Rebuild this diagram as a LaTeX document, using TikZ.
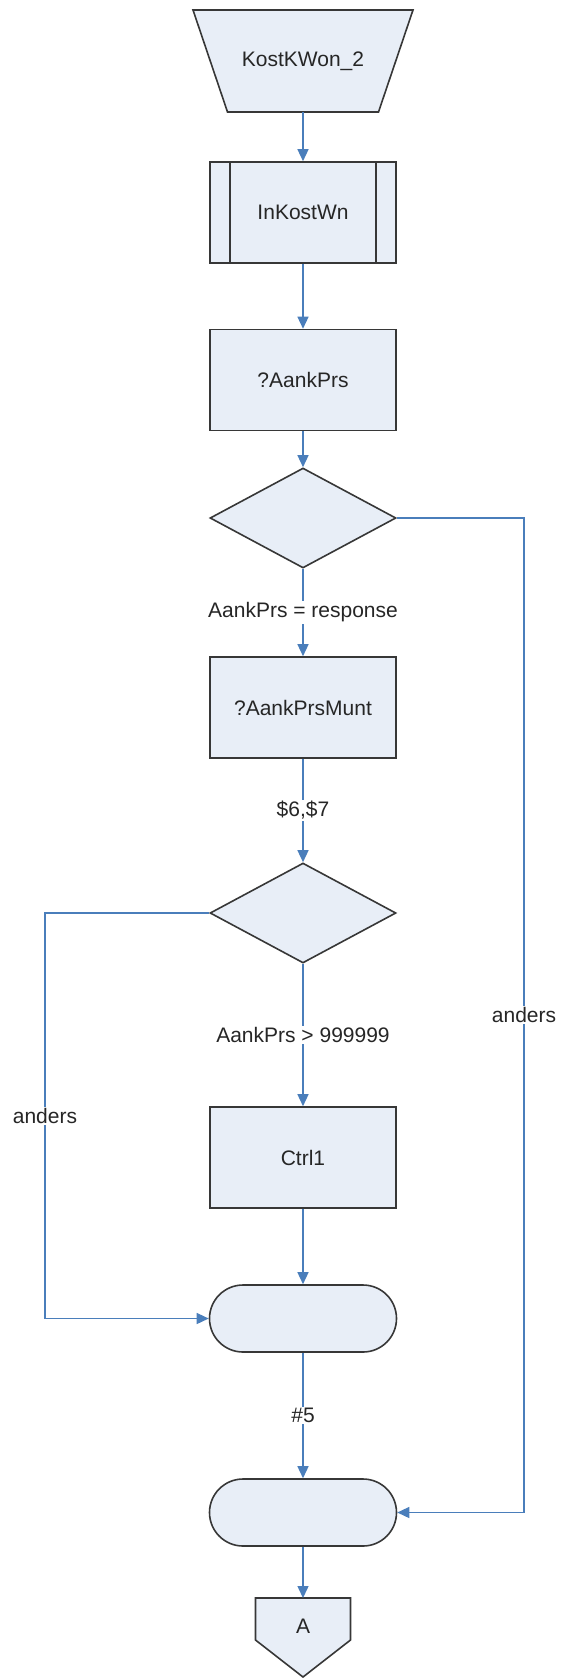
\documentclass[tikz,border=0pt]{standalone}
\usepackage{fontspec}
\setmainfont{Liberation Sans}
\usepackage{tikz}
\usetikzlibrary
  {
    arrows.meta,              % triangle arrow heads
    shapes.geometric,         % diamond
    shapes.misc,              % rounded rectangle
    calc,
  }

\definecolor{flowblue}{RGB}{74,126,187}
\definecolor{boxfill}{RGB}{232,238,247}
\definecolor{boxedge}{RGB}{55,55,55}

\tikzset{
  every node/.style={font=\fontsize{21}{25}\selectfont, text=black!85},
  shapebox/.style={draw=boxedge, fill=boxfill, line width=1.6pt, inner sep=0pt},
  procbox/.style={shapebox, rectangle, minimum width=186pt, minimum height=101pt},
  askbox/.style={shapebox, diamond, minimum width=186pt, minimum height=100pt},
  joinbox/.style={shapebox, rounded rectangle, minimum width=187pt, minimum height=67pt},
  flow/.style={draw=flowblue, line width=1.4pt, -{Triangle[length=12pt,width=11pt]}},
  lbl/.style={fill=white, inner sep=1.5pt},
}

\begin{document}
\begin{tikzpicture}[x=1pt, y=-1pt]
    \useasboundingbox (0,0) rectangle (560,1678);

    % manual input, drawn as a trapezium
    \draw [shapebox] (193,10) -- (413,10) -- (378.5,112) -- (227.5,112) -- cycle;
    \node (start) at (303,61) {KostKWon\_2};
    \coordinate (startbot) at (303,112);

    \node [procbox] (sub)   at (303,212.5)  {InKostWn};
    \draw [boxedge, line width=1.6pt]
          ($ (sub.north west) + (21,0) $) -- ($ (sub.south west) + (21,0) $)
          ($ (sub.north east) - (21,0) $) -- ($ (sub.south east) - (21,0) $);
    \node [procbox] (ask1)  at (303,380)    {?AankPrs};
    \node [askbox]  (d1)    at (303,518)    {};
    \node [procbox] (ask2)  at (303,707.5)  {?AankPrsMunt};
    \node [askbox]  (d2)    at (303,913)    {};
    \node [procbox] (ctrl)  at (303,1157.5) {Ctrl1};
    \node [joinbox] (cap1)  at (303,1318.5) {};
    \node [joinbox] (cap2)  at (303,1512.5) {};

    % off page connector
    \draw [shapebox] (255.5,1598) -- (350.5,1598) -- (350.5,1640) -- (303,1677)
          -- (255.5,1640) -- cycle;
    \coordinate (offtop) at (303,1598);
    \node (offA) at (303,1626) {A};

    \draw [flow] (startbot) -- (sub);
    \draw [flow] (sub) -- (ask1);
    \draw [flow] (ask1) -- (d1);
    \draw [flow] (d1) -- node [lbl] {AankPrs = response} (ask2);
    \draw [flow] (ask2) -- node [lbl] {\$6,\$7} (d2);
    \draw [flow] (d2) -- node [lbl] {AankPrs > 999999} (ctrl);
    \draw [flow] (ctrl) -- (cap1);
    \draw [flow] (cap1) -- node [lbl] {\#5} (cap2);
    \draw [flow] (cap2) -- (offtop);

    % the two "anders" branches
    \coordinate (rtop) at (524,518);
    \coordinate (rbot) at (524,1512.5);
    \draw [flow] (d1.east) -- (rtop) -- node [lbl] {anders} (rbot) -- (cap2.east);
    \coordinate (ltop) at (45,913);
    \coordinate (lbot) at (45,1318.5);
    \draw [flow] (d2.west) -- (ltop) -- node [lbl] {anders} (lbot) -- (cap1.west);
\end{tikzpicture}
\end{document}
